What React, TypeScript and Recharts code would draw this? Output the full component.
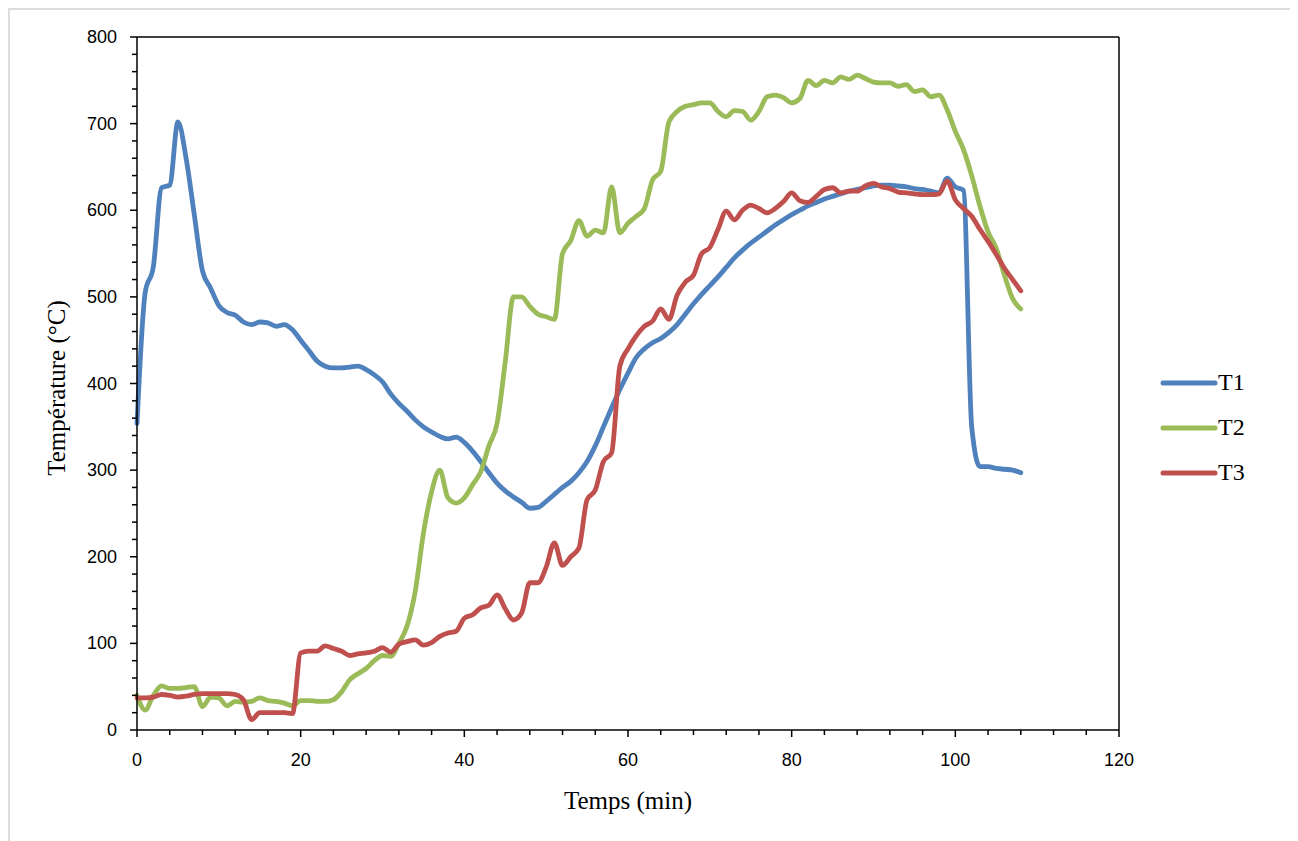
import React from "react"
import { LineChart, Line, XAxis, YAxis, ReferenceLine, Legend, Label } from "recharts"

// time in minutes
const minutes = Array.from({ length: 109 }, (_, i) => i)

// thermocouple readings (°C)
const t1 = [
  354, 505, 535, 626, 629, 702, 660, 595, 530, 510,
  490, 482, 479, 471, 468, 471, 470, 466, 468, 462,
  450, 438, 426, 420, 418, 418, 419, 420, 416, 410,
  402, 388, 377, 368, 358, 350, 344, 339, 336, 338,
  332, 322, 310, 297, 285, 276, 269, 263, 256, 257,
  264, 272, 280, 287, 297, 310, 328, 350, 372, 393,
  412, 430, 440, 447, 452, 459, 468, 480, 492, 503,
  513, 523, 534, 545, 554, 562, 569, 576, 583, 589,
  595, 600, 605, 609, 613, 616, 619, 622, 624, 626,
  628, 629, 629, 628, 627, 625, 624, 622, 620, 637,
  627, 623, 350, 304, 304, 302, 301, 300, 297,
]

const t2 = [
  40, 23, 40, 51, 48, 48, 49, 50, 27, 38,
  37, 28, 33, 32, 33, 37, 34, 33, 31, 28,
  34, 34, 33, 33, 35, 44, 58, 65, 71, 80,
  86, 85, 100, 120, 160, 227, 275, 300, 268, 262,
  268, 283, 298, 328, 354, 425, 500, 500, 489, 480,
  477, 474, 550, 565, 588, 570, 577, 574, 627, 574,
  585, 593, 602, 635, 645, 702, 714, 720, 722, 724,
  724, 714, 708, 715, 714, 704, 714, 731, 733, 730,
  724, 729, 750, 744, 750, 747, 754, 751, 756, 752,
  748, 747, 747, 743, 745, 737, 739, 731, 733, 716,
  691, 670, 640, 605, 575, 556, 525, 498, 486,
]

const t3 = [
  37, 37, 38, 41, 40, 38, 39, 41, 42, 42,
  42, 42, 41, 35, 12, 20, 20, 20, 20, 19,
  89, 91, 91, 97, 94, 91, 86, 88, 89, 91,
  95, 90, 99, 102, 104, 98, 101, 108, 112, 114,
  129, 133, 141, 144, 156, 140, 127, 135, 170, 170,
  188, 216, 190, 200, 210, 266, 277, 310, 320, 420,
  440, 455, 466, 472, 486, 474, 502, 517, 525, 550,
  557, 578, 599, 589, 600, 606, 602, 597, 602, 610,
  620, 611, 609, 616, 624, 626, 620, 622, 622, 628,
  631, 627, 625, 621, 620, 619, 618, 618, 619, 634,
  612, 602, 593, 578, 564, 549, 533, 520, 507,
]

const xTicks = Array.from({ length: 31 }, (_, i) => i * 4)
const yTicks = Array.from({ length: 41 }, (_, i) => i * 20)

const series = [
  { key: "T1", color: "#4F81BD" },
  { key: "T2", color: "#9BBB59" },
  { key: "T3", color: "#C0504D" },
]

const data = minutes.map((m, i) => ({ t: m, T1: t1[i], T2: t2[i], T3: t3[i] }))

const tickFont = { fontFamily: "'Liberation Sans', Arial, sans-serif", fontSize: 18, fill: "#000" }
const serif = "'Liberation Serif', 'Times New Roman', serif"

// major ticks carry a label, minor ticks are shorter
const XTick = ({ x, y, payload }: any) => {
  const major = payload.value % 20 === 0
  return (
    <g>
      <line x1={x} x2={x} y1={y} y2={y + (major ? 7 : 5)} stroke="#000" strokeWidth={1.5} />
      {major && (
        <text x={x} y={y + 30} textAnchor="middle" dominantBaseline="central" {...tickFont}>
          {payload.value}
        </text>
      )}
    </g>
  )
}

const YTick = ({ x, y, payload }: any) => {
  const major = payload.value % 100 === 0
  return (
    <g>
      <line x1={x - (major ? 7 : 5)} x2={x} y1={y} y2={y} stroke="#000" strokeWidth={1.5} />
      {major && (
        <text x={x - 20} y={y} textAnchor="end" dominantBaseline="central" {...tickFont}>
          {payload.value}
        </text>
      )}
    </g>
  )
}

const renderLegend = () => (
  <div style={{ fontFamily: serif, fontSize: 24, color: "#000" }}>
    {series.map((s) => (
      <div key={s.key} style={{ height: 45, display: "flex", alignItems: "center" }}>
        <svg width={58} height={10}>
          <line x1={3} x2={55} y1={5} y2={5} stroke={s.color} strokeWidth={5} strokeLinecap="round" />
        </svg>
        <span>{s.key}</span>
      </div>
    ))}
  </div>
)

export default function App() {
  return (
    <div style={{ width: 1280, height: 833, border: "2px solid #dcdcdc", borderBottom: "none" }}>
      <style>{"html, body { overflow: hidden; }"}</style>
      <LineChart width={1280} height={823} data={data} margin={{ top: 27, right: 171, bottom: 43, left: 57 }}>
        <XAxis
          type="number"
          dataKey="t"
          domain={[0, 120]}
          ticks={xTicks}
          interval={0}
          tickSize={0}
          tickMargin={0}
          tickLine={false}
          tick={<XTick />}
          height={60}
          axisLine={{ stroke: "#000", strokeWidth: 1.5 }}
        >
          <Label
            content={() => (
              <text x={618} y={790} textAnchor="middle" dominantBaseline="central" fontFamily={serif} fontSize={25} fill="#000">
                Temps (min)
              </text>
            )}
          />
        </XAxis>
        <YAxis
          type="number"
          domain={[0, 800]}
          ticks={yTicks}
          interval={0}
          tickSize={0}
          tickMargin={0}
          tickLine={false}
          tick={<YTick />}
          width={70}
          axisLine={{ stroke: "#000", strokeWidth: 1.5 }}
        >
          <Label
            content={() => (
              <text
                x={46}
                y={378}
                transform="rotate(-90 46 378)"
                textAnchor="middle"
                dominantBaseline="central"
                fontFamily={serif}
                fontSize={25}
                fill="#000"
              >
                Température (°C)
              </text>
            )}
          />
        </YAxis>
        <ReferenceLine y={800} stroke="#000" strokeWidth={1.5} />
        <ReferenceLine x={120} stroke="#000" strokeWidth={1.5} />
        {series.map((s) => (
          <Line
            key={s.key}
            type="monotone"
            dataKey={s.key}
            stroke={s.color}
            strokeWidth={4.8}
            strokeLinecap="round"
            strokeLinejoin="round"
            dot={false}
            activeDot={false}
            isAnimationActive={false}
          />
        ))}
        <Legend
          layout="vertical"
          align="center"
          verticalAlign="middle"
          content={renderLegend}
          wrapperStyle={{ left: 1150, top: 350, width: 100 }}
        />
      </LineChart>
    </div>
  )
}
